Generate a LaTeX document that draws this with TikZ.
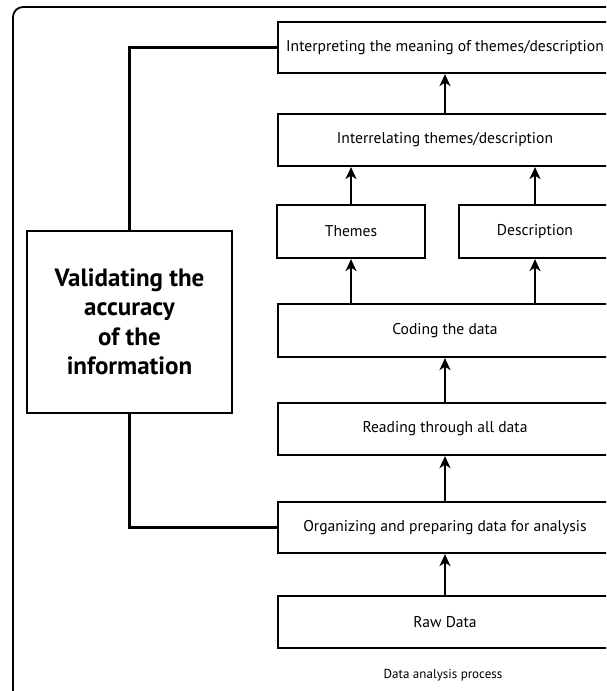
\documentclass[tikz,border=0pt]{standalone}
\usepackage{fontspec}
\setmainfont{PT Sans}
\usetikzlibrary{arrows.meta}
\begin{document}
\begin{tikzpicture}[x=1pt,y=-1pt,
  stepbox/.style={draw, line width=2.2pt, inner sep=0pt, font=\fontsize{15.6}{18}\selectfont},
  link/.style={line width=2.6pt},
  up/.style={line width=2.8pt, -{Stealth[length=12pt,width=11pt,inset=3.5pt]}}]
\useasboundingbox (0,0) rectangle (606,691);
\clip (0,0) rectangle (606,691);
\draw[line width=1.8pt, rounded corners=10pt] (13,7) rectangle (625,705);
\node[stepbox, minimum width=334pt, minimum height=51pt] (interp) at (445,47.5) {Interpreting the meaning of themes/description};
\node[stepbox, minimum width=334pt, minimum height=52pt] (interrel) at (445,140) {Interrelating themes/description};
\node[stepbox, minimum width=148pt, minimum height=53pt] (themes) at (351,231.5) {Themes};
\node[stepbox, minimum width=152pt, minimum height=53pt] (desc) at (535,231.5) {Description};
\node[stepbox, minimum width=334pt, minimum height=53pt] (coding) at (445,330.5) {Coding the data};
\node[stepbox, minimum width=334pt, minimum height=52pt] (reading) at (445,429) {Reading through all data};
\node[stepbox, minimum width=334pt, minimum height=51pt] (org) at (445,527.5) {Organizing and preparing data for analysis};
\node[stepbox, minimum width=334pt, minimum height=52pt] (raw) at (445,622) {Raw Data};
\node[draw, line width=2.2pt, minimum width=205pt, minimum height=182pt, align=center,
  font=\fontsize{25}{29.5}\selectfont\bfseries] (valid) at (129.5,322) {Validating the\\accuracy\\of the\\information};
\node[font=\fontsize{13}{15}\selectfont] (cap) at (443,675) {Data analysis process};
\draw[up] (raw.north) -- (org.south);
\draw[up] (org.north) -- (reading.south);
\draw[up] (reading.north) -- (coding.south);
\draw[up] (coding.north -| themes.north) -- (themes.south);
\draw[up] (coding.north -| desc.north) -- (desc.south);
\draw[up] (themes.north) -- (themes.north |- interrel.south);
\draw[up] (desc.north) -- (desc.north |- interrel.south);
\draw[up] (interrel.north) -- (interp.south);
\draw[link] (interp.west) -| (valid.north);
\draw[link] (valid.south) |- (org.west);
\end{tikzpicture}
\end{document}
